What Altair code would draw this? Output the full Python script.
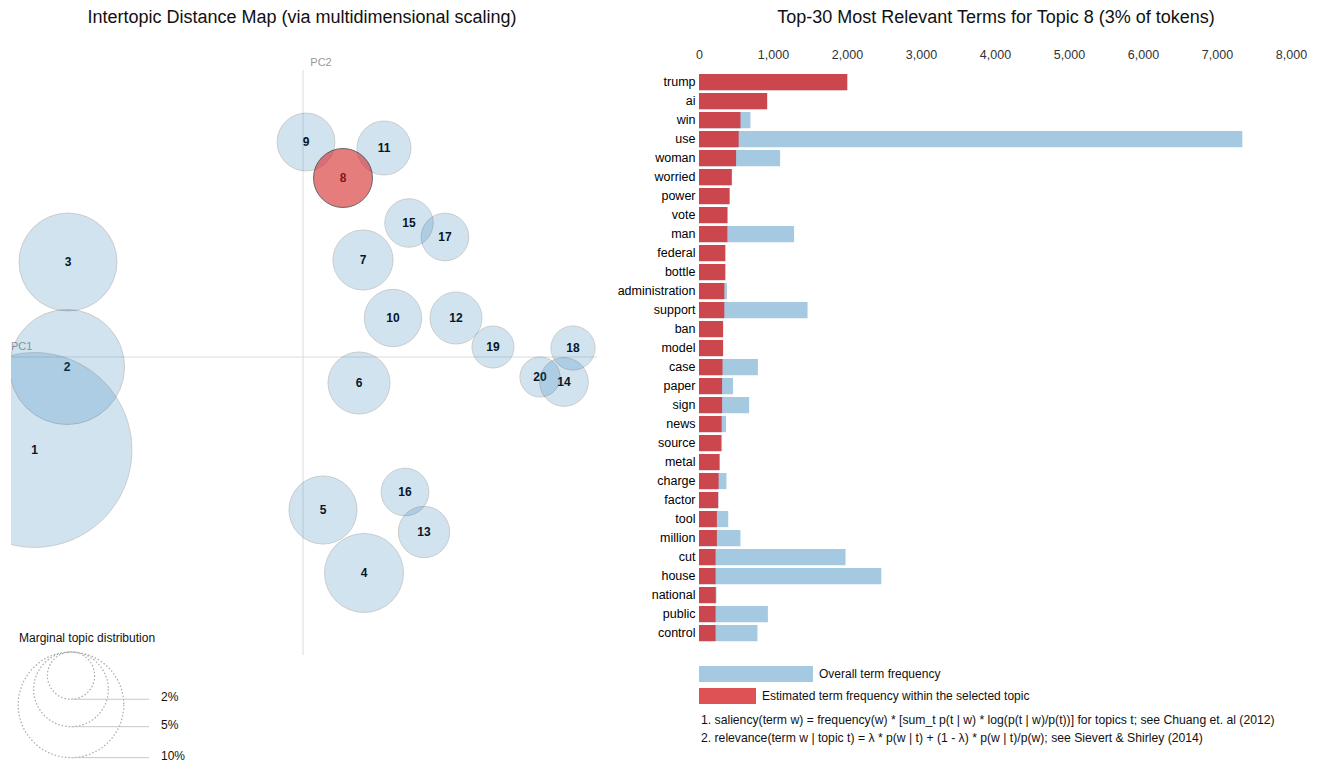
import altair as alt
import pandas as pd

# ---------------- data ----------------
topic_ids = list(range(1, 21))
topic_pc1 = [-0.2685, -0.236, -0.235, 0.061, 0.020, 0.056, 0.060, 0.040, 0.003, 0.090,
             0.081, 0.153, 0.121, 0.261, 0.106, 0.102, 0.142, 0.270, 0.190, 0.237]
topic_pc2 = [-0.093, -0.010, 0.095, -0.216, -0.153, -0.026, 0.097, 0.179, 0.215, 0.039,
             0.209, 0.039, -0.175, -0.025, 0.134, -0.135, 0.120, 0.009, 0.010, -0.020]
topic_pct = [34.0, 11.86, 8.58, 5.59, 4.15, 3.44, 3.23, 3.12, 2.99, 2.94,
             2.61, 2.42, 2.36, 2.12, 2.10, 2.04, 2.03, 1.74, 1.58, 1.44]
selected_topic = 8

legend_pcts = [2, 5, 10]
legend_labels = ["2%", "5%", "10%"]

terms = ["trump", "ai", "win", "use", "woman", "worried", "power", "vote", "man", "federal",
         "bottle", "administration", "support", "ban", "model", "case", "paper", "sign", "news",
         "source", "metal", "charge", "factor", "tool", "million", "cut", "house", "national",
         "public", "control"]
term_total = [2010, 925, 695, 7342, 1096, 447, 416, 388, 1285, 358,
              358, 377, 1467, 328, 328, 796, 460, 678, 365, 312,
              280, 371, 262, 395, 560, 1980, 2463, 236, 931, 790]
term_est = [2000, 919, 560, 536, 501, 442, 412, 383, 383, 354,
            354, 342, 342, 324, 324, 318, 312, 312, 306, 300,
            277, 265, 259, 242, 242, 224, 224, 226, 224, 224]
x_ticks = [0, 1000, 2000, 3000, 4000, 5000, 6000, 7000, 8000]

left_title = "Intertopic Distance Map (via multidimensional scaling)"
right_title = "Top-30 Most Relevant Terms for Topic 8 (3% of tokens)"
footnote1 = "1. saliency(term w) = frequency(w) * [sum_t p(t | w) * log(p(t | w)/p(t))] for topics t; see Chuang et. al (2012)"
footnote2 = "2. relevance(term w | topic t) = \u03bb * p(w | t) + (1 - \u03bb) * p(w | t)/p(w); see Sievert & Shirley (2014)"

# ---------------- style ----------------
FONT = "Liberation Sans"
BLUE = "#1f77b4"
RED = "#d62728"
R_K = 16.7                     # px radius per sqrt(percent)
SIZE_PER_PCT = 4 * R_K ** 2    # vega symbol size = (2r)^2
LEG_TOP = 652

one = alt.Data(values=[{}])

topics_df = pd.DataFrame({"topic": topic_ids, "PC1": topic_pc1, "PC2": topic_pc2, "pct": topic_pct})
xsc = alt.Scale(domain=[-0.292, 0.338], nice=False, zero=False)
ysc = alt.Scale(domain=[-0.405, 0.357], nice=False, zero=False)
ssc = alt.Scale(type="linear", domain=[0, 10], range=[0, 10 * SIZE_PER_PCT], zero=True)

X = alt.X("PC1:Q", scale=xsc, axis=None)
Y = alt.Y("PC2:Q", scale=ysc, axis=None)
S = alt.Size("pct:Q", scale=ssc, legend=None)

pc1_line = alt.Chart(one).mark_rule(color="#dcdcdc", strokeWidth=1).encode(
    y=alt.YDatum(0, scale=ysc, axis=None), x=alt.value(0), x2=alt.value(586))
pc2_line = alt.Chart(one).mark_rule(color="#dcdcdc", strokeWidth=1).encode(
    x=alt.XDatum(0, scale=xsc, axis=None), y=alt.value(70), y2=alt.value(655))
pc1_lab = alt.Chart(one).mark_text(text="PC1", font=FONT, fontSize=11, color="#999",
                                   align="left", baseline="middle").encode(
    x=alt.value(0), y=alt.value(347))
pc2_lab = alt.Chart(one).mark_text(text="PC2", font=FONT, fontSize=11, color="#999",
                                   align="center", baseline="middle").encode(
    x=alt.value(310), y=alt.value(63))

topic_text = alt.Chart(topics_df).mark_text(font=FONT, fontSize=12, fontWeight="bold",
                                            color="#000").encode(x=X, y=Y, text="topic:N")
circles = alt.Chart(topics_df).transform_filter(f"datum.topic != {selected_topic}").mark_circle(
    clip=True, fill=BLUE, stroke="black", strokeWidth=1, opacity=0.2).encode(x=X, y=Y, size=S)
sel_circle = alt.Chart(topics_df).transform_filter(f"datum.topic == {selected_topic}").mark_circle(
    clip=True, fill=RED, stroke="black", strokeWidth=1, opacity=0.6).encode(x=X, y=Y, size=S)

left_title_mark = alt.Chart(one).mark_text(text=left_title, font=FONT, fontSize=18, color="#111",
                                           align="center", baseline="middle").encode(
    x=alt.value(291), y=alt.value(18))

leg_df = pd.DataFrame({"pct": legend_pcts, "label": legend_labels})
leg = alt.Chart(leg_df).transform_calculate(
    r=f"{R_K}*sqrt(datum.pct)",
    cy=f"{LEG_TOP} + datum.r",
    by=f"{LEG_TOP} + 2*datum.r")
leg_title = alt.Chart(one).mark_text(text="Marginal topic distribution", font=FONT, fontSize=12,
                                     color="#111", align="left", baseline="middle").encode(
    x=alt.value(8), y=alt.value(638))
leg_circles = leg.mark_point(shape="circle", filled=False, stroke="#a8a8a8", strokeWidth=1.2,
                             strokeDash=[1.5, 2], opacity=1).encode(
    x=alt.value(60), y=alt.Y("cy:Q", scale=None), size=S)
leg_rules = leg.mark_rule(color="#c8c8c8", strokeWidth=1).encode(
    x=alt.value(60), x2=alt.value(138), y=alt.Y("by:Q", scale=None))
leg_text = leg.mark_text(font=FONT, fontSize=12, color="#111", align="left",
                         baseline="middle", dy=-2).encode(
    x=alt.value(150), y=alt.Y("by:Q", scale=None), text="label:N")

left = alt.layer(
    pc1_line, pc2_line, pc1_lab, pc2_lab, topic_text, circles, sel_circle,
    left_title_mark, leg_title, leg_circles, leg_rules, leg_text
).properties(width=630, height=762)

# ---------------- bar chart ----------------
bars_df = pd.DataFrame({"term": terms, "Total": term_total, "Freq": term_est})
bx = alt.Scale(domain=[0, 8000], nice=False, zero=True)
by_ = alt.Scale(domain=terms, range=[72.6, 642.6], paddingInner=0.15, paddingOuter=0.075)
x_axis = alt.Axis(orient="top", values=x_ticks, format=",d", offset=-63, ticks=False, tickSize=0,
                  domain=False, grid=False, title=None, labelPadding=2, labelFlush=False,
                  labelFont=FONT, labelFontSize=12.5, labelColor="#333")
y_axis = alt.Axis(orient="left", ticks=False, tickSize=0, domain=False, grid=False, title=None,
                  labelPadding=4, labelFont=FONT, labelFontSize=12.5, labelColor="#000",
                  labelLimit=300)

blue_bars = alt.Chart(bars_df).mark_bar(color=BLUE, opacity=0.4).encode(
    x=alt.X("Total:Q", scale=bx, axis=x_axis),
    y=alt.Y("term:N", scale=by_, sort=terms, axis=y_axis))
red_bars = alt.Chart(bars_df).mark_bar(color=RED, opacity=0.8).encode(
    x=alt.X("Freq:Q", scale=bx, axis=x_axis),
    y=alt.Y("term:N", scale=by_, sort=terms, axis=y_axis))

right_title_mark = alt.Chart(one).mark_text(text=right_title, font=FONT, fontSize=18, color="#111",
                                            align="center", baseline="middle").encode(
    x=alt.value(297), y=alt.value(18))
leg_blue = alt.Chart(one).mark_rect(color=BLUE, opacity=0.4).encode(
    x=alt.value(0), x2=alt.value(114), y=alt.value(666), y2=alt.value(682))
leg_red = alt.Chart(one).mark_rect(color=RED, opacity=0.8).encode(
    x=alt.value(0), x2=alt.value(57), y=alt.value(688), y2=alt.value(704))
leg_blue_t = alt.Chart(one).mark_text(text="Overall term frequency", font=FONT, fontSize=12,
                                      color="#111", align="left", baseline="middle").encode(
    x=alt.value(120), y=alt.value(674))
leg_red_t = alt.Chart(one).mark_text(text="Estimated term frequency within the selected topic",
                                     font=FONT, fontSize=12, color="#111", align="left",
                                     baseline="middle").encode(
    x=alt.value(63), y=alt.value(696))
fn1 = alt.Chart(one).mark_text(text=footnote1, font=FONT, fontSize=12.2, color="#111",
                               align="left", baseline="middle").encode(
    x=alt.value(2), y=alt.value(720))
fn2 = alt.Chart(one).mark_text(text=footnote2, font=FONT, fontSize=12.2, color="#111",
                               align="left", baseline="middle").encode(
    x=alt.value(2), y=alt.value(738))

right = alt.layer(
    blue_bars, red_bars, right_title_mark, leg_blue, leg_red, leg_blue_t, leg_red_t, fn1, fn2
).properties(width=592, height=762)

chart = alt.HConcatChart(hconcat=[left, right], spacing=58, bounds="flush").properties(
    padding={"left": 10, "top": 0, "right": 0, "bottom": 0},
    background="white",
).configure_view(stroke=None)

chart.save("out.html", embed_options={"renderer": "svg", "actions": False})
